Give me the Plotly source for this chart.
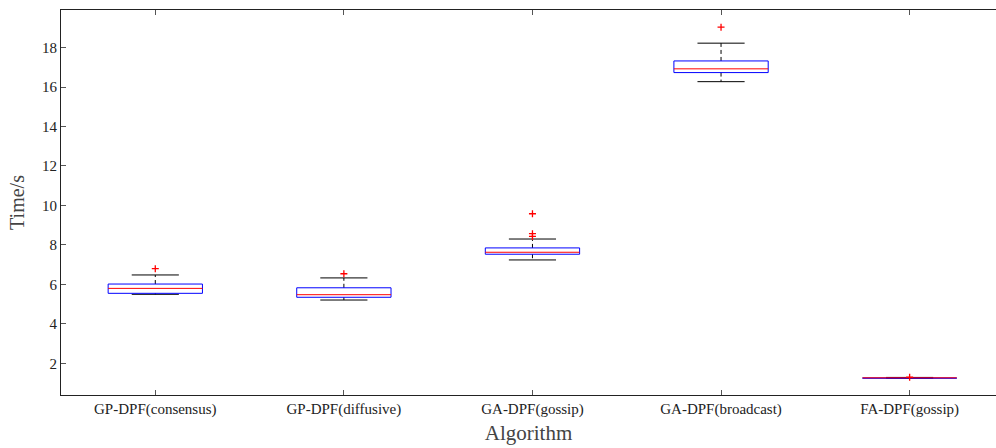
import plotly.graph_objects as go

categories = ["GP-DPF(consensus)", "GP-DPF(diffusive)", "GA-DPF(gossip)", "GA-DPF(broadcast)", "FA-DPF(gossip)"]
q1 = [5.55, 5.35, 7.53, 16.73, 1.255]
median = [5.80, 5.48, 7.63, 16.92, 1.27]
q3 = [6.02, 5.83, 7.85, 17.32, 1.285]
lower_whisker = [5.50, 5.21, 7.24, 16.27, 1.25]
upper_whisker = [6.48, 6.33, 8.30, 18.22, 1.29]
outliers = [[6.80], [6.54], [9.58, 8.57, 8.43], [19.03], [1.30]]

BOX_HALF = 0.25
CAP_HALF = 0.125
SERIF = "Liberation Serif"

fig = go.Figure()

# whiskers (dashed)
wx, wy = [], []
for i in range(len(categories)):
    wx += [i, i, None, i, i, None]
    wy += [q3[i], upper_whisker[i], None, q1[i], lower_whisker[i], None]
fig.add_trace(go.Scatter(x=wx, y=wy, mode="lines", line=dict(color="black", width=1, dash="4px,3px"),
                         hoverinfo="skip", showlegend=False))

# caps
cx, cy = [], []
for i in range(len(categories)):
    cx += [i - CAP_HALF, i + CAP_HALF, None, i - CAP_HALF, i + CAP_HALF, None]
    cy += [upper_whisker[i], upper_whisker[i], None, lower_whisker[i], lower_whisker[i], None]
fig.add_trace(go.Scatter(x=cx, y=cy, mode="lines", line=dict(color="black", width=1),
                         hoverinfo="skip", showlegend=False))

# boxes
bx, by = [], []
for i in range(len(categories)):
    bx += [i - BOX_HALF, i + BOX_HALF, i + BOX_HALF, i - BOX_HALF, i - BOX_HALF, None]
    by += [q1[i], q1[i], q3[i], q3[i], q1[i], None]
fig.add_trace(go.Scatter(x=bx, y=by, mode="lines", line=dict(color="#0000ff", width=1),
                         hoverinfo="skip", showlegend=False))

# medians
mx, my = [], []
for i in range(len(categories)):
    mx += [i - BOX_HALF, i + BOX_HALF, None]
    my += [median[i], median[i], None]
fig.add_trace(go.Scatter(x=mx, y=my, mode="lines", line=dict(color="#ff0000", width=1),
                         hoverinfo="skip", showlegend=False))

# outliers
ox, oy = [], []
for i, vals in enumerate(outliers):
    for v in vals:
        ox.append(i)
        oy.append(v)
fig.add_trace(go.Scatter(x=ox, y=oy, mode="markers",
                         marker=dict(symbol="cross-thin", size=5, line=dict(color="#ff0000", width=1.3)),
                         showlegend=False))

axis_common = dict(showline=True, linecolor="#222222", linewidth=1,
                   ticks="inside", ticklen=5, tickcolor="#555555", showgrid=False, zeroline=False,
                   tickfont=dict(family=SERIF, size=15, color="#222222"))

fig.update_layout(
    width=996, height=448,
    margin=dict(l=61, r=0, t=10, b=53),
    plot_bgcolor="white", paper_bgcolor="white",
    xaxis=dict(range=[-0.5, 4.458], tickvals=list(range(len(categories))), ticktext=categories,
               mirror="ticks",
               title=dict(text="Algorithm", font=dict(family=SERIF, size=21, color="#444444"), standoff=8),
               **axis_common),
    yaxis=dict(range=[0.4, 19.9], tickvals=[2, 4, 6, 8, 10, 12, 14, 16, 18], mirror=False,
               title=dict(text="Time/s", font=dict(family=SERIF, size=20, color="#444444"), standoff=12),
               **axis_common),
)

fig.write_html("out.html")
